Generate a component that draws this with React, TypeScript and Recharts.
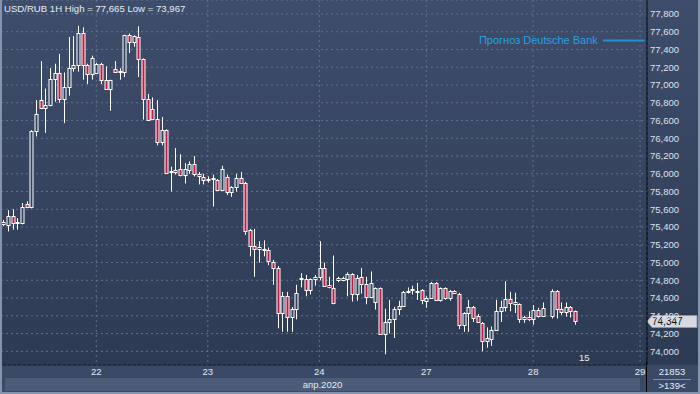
import { Bar, CartesianGrid, ComposedChart, ReferenceLine, XAxis, YAxis } from "recharts";

// hourly USD/RUB candles, 21-28 Apr 2020 (null = missing hour)
const opens = [
  75.46, 75.42, 75.52, 75.45, 75.45, 75.66, 75.62, 76.48, 76.83, 76.74,
  76.77, 77.07, 77.13, 76.84, 76.98, 77.19, 77.22, 77.58, 77.22, 77.12,
  77.14, 77.24, 77.06, 76.96, 77.18, 77.15, 77.15, 77.56, 77.48, 77.54,
  77.29, 76.84, 76.73, 76.62, 76.36, 76.49, 76.02, 76.04, 76.05, 75.99,
  76.04, 76.11, 76.0, 75.96, 75.94, 75.94, 75.93, 75.82, 75.96, 75.8,
  75.85, 75.95, 75.9, 75.37, 75.19, 75.15, 75.14, 75.14, 75.01, 74.94,
  74.43, 74.62, 74.39, 74.48, 74.82, 74.81, 74.69, 74.81, 74.84, 74.94,
  74.75, 74.71, 74.83, 74.8, 74.82, 74.87, 74.65, 74.84, 74.76, 74.61,
  74.56, 74.71, 74.2, 74.33, 74.36, 74.48, 74.51, 74.67, 74.69, 74.68,
  74.69, 74.57, 74.6, 74.77, 74.58, 74.71, 74.6, 74.68, 74.65, 74.3,
  74.43, 74.5, 74.4, 74.32, 74.12, 74.14, 74.24, 74.45, 74.5, 74.59,
  74.56, 74.53, 74.36, 74.39, 74.36, 74.46, 74.4, null, 74.4, 74.68,
  74.48, 74.44, 74.5, 74.45,
];
const highs = [
  75.48, 75.59, 75.6, 75.5, 75.67, 75.69, 76.49, 76.83, 77.27, 76.96,
  77.19, 77.24, 77.35, 77.14, 77.54, 77.55, 77.665, 77.65, 77.24, 77.33,
  77.25, 77.25, 77.21, 77.06, 77.27, 77.19, 77.565, 77.58, 77.56, 77.66,
  77.3, 76.9, 76.86, 76.83, 76.64, 76.5, 76.08, 76.29, 76.22, 76.12,
  76.14, 76.2, 76.02, 76.0, 75.97, 75.99, 75.94, 76.09, 75.99, 75.86,
  76.0, 76.02, 75.91, 75.38, 75.38, 75.24, 75.25, 75.17, 75.03, 74.96,
  74.67, 74.67, 74.5, 74.75, 74.88, 74.86, 74.82, 74.86, 75.24, 75.0,
  74.84, 75.08, 74.84, 74.84, 74.89, 74.88, 74.86, 74.94, 74.84, 74.9,
  74.72, 74.72, 74.48, 74.58, 74.5, 74.57, 74.68, 74.72, 74.74, 74.77,
  74.7, 74.62, 74.78, 74.78, 74.72, 74.72, 74.69, 74.69, 74.66, 74.44,
  74.58, 74.51, 74.42, 74.33, 74.27, 74.28, 74.58, 74.57, 74.79, 74.67,
  74.66, 74.54, 74.4, 74.45, 74.52, 74.49, 74.55, null, 74.7, 74.69,
  74.55, 74.55, 74.51, 74.46,
];
const lows = [
  75.41, 75.35, 75.37, 75.37, 75.43, 75.62, 75.61, 76.42, 76.73, 76.46,
  76.76, 76.81, 76.8, 76.57, 76.88, 77.15, 77.15, 77.06, 77.01, 77.06,
  77.13, 77.01, 76.95, 76.71, 77.14, 77.06, 77.09, 77.36, 77.43, 77.09,
  76.61, 76.6, 76.61, 76.32, 76.32, 76.0, 75.8, 75.99, 75.97, 75.89,
  76.0, 75.97, 75.88, 75.88, 75.9, 75.63, 75.81, 75.81, 75.76, 75.74,
  75.8, 75.89, 75.31, 75.07, 74.84, 75.0, 75.07, 74.97, 74.75, 74.26,
  74.22, 74.22, 74.22, 74.36, 74.72, 74.62, 74.64, 74.74, 74.8, 74.73,
  74.71, 74.53, 74.78, 74.79, 74.62, 74.56, 74.57, 74.65, 74.53, 74.6,
  74.47, 74.19, 73.967, 74.2, 74.15, 74.41, 74.5, 74.65, 74.64, 74.58,
  74.53, 74.49, 74.59, 74.57, 74.56, 74.58, 74.57, 74.65, 74.25, 74.22,
  74.22, 74.33, 74.32, 74.0, 74.04, 74.06, 74.23, 74.33, 74.45, 74.45,
  74.43, 74.32, 74.32, 74.34, 74.3, 74.38, 74.39, null, 74.37, 74.37,
  74.41, 74.39, 74.38, 74.3,
];
const closes = [
  75.43, 75.52, 75.44, 75.46, 75.63, 75.63, 76.48, 76.67, 76.74, 76.77,
  77.07, 77.13, 76.84, 76.98, 77.19, 77.22, 77.58, 77.22, 77.12, 77.3,
  77.24, 77.06, 76.96, 77.06, 77.15, 77.16, 77.56, 77.48, 77.55, 77.29,
  76.84, 76.61, 76.62, 76.36, 76.49, 76.01, 76.03, 76.02, 75.99, 76.05,
  76.11, 76.0, 75.97, 75.93, 75.94, 75.95, 75.82, 76.05, 75.8, 75.85,
  75.95, 75.9, 75.36, 75.19, 75.15, 75.17, 75.15, 75.02, 74.94, 74.43,
  74.62, 74.39, 74.48, 74.66, 74.83, 74.69, 74.81, 74.84, 74.94, 74.74,
  74.72, 74.54, 74.8, 74.83, 74.87, 74.65, 74.83, 74.76, 74.61, 74.77,
  74.71, 74.2, 74.33, 74.36, 74.48, 74.51, 74.67, 74.68, 74.7, 74.68,
  74.58, 74.6, 74.77, 74.58, 74.71, 74.6, 74.68, 74.66, 74.3, 74.43,
  74.5, 74.37, 74.33, 74.12, 74.15, 74.24, 74.45, 74.5, 74.59, 74.54,
  74.53, 74.36, 74.39, 74.36, 74.46, 74.4, 74.49, null, 74.68, 74.48,
  74.44, 74.5, 74.45, 74.347,
];

const SLOTS = 139;
const dayTicks = [20, 44, 68, 91, 114, 137];
const dayLabels = ["22", "23", "24", "27", "28", "29"];
const priceTicks = [
  74.0, 74.2, 74.4, 74.6, 74.8, 75.0, 75.2, 75.4, 75.6, 75.8,
  76.0, 76.2, 76.4, 76.6, 76.8, 77.0, 77.2, 77.4, 77.6, 77.8,
];
const forecast = 77.5;
const lastPrice = 74.347;

const data = Array.from({ length: SLOTS }, (_, i) => {
  const o = opens[i];
  if (o == null) return { i, range: null };
  return { i, o, h: highs[i], l: lows[i], c: closes[i], range: [lows[i], highs[i]] };
});

const fmt = (v: number) => v.toFixed(3).replace(".", ",");
const FONT = "'Liberation Sans', Arial, sans-serif";

function Candle(props: any) {
  const { x, y, width, height, payload } = props;
  if (!payload || payload.o == null || !height) return null;
  const { o, h, l, c } = payload;
  const top = Math.min(y, y + height);
  const span = Math.abs(height);
  const k = span / (h - l);
  const cx = Math.round(x + width / 2) + 0.5;
  let bt = Math.round(top + (h - Math.max(o, c)) * k) + 0.5;
  let bb = Math.round(top + (h - Math.min(o, c)) * k) + 0.5;
  if (bb - bt < 1) bb = bt + 1;
  const bear = c < o;
  return (
    <g>
      <line x1={cx} x2={cx} y1={top} y2={top + span} stroke="#ffffff" strokeWidth={1} />
      <rect
        x={cx - 1.5}
        y={bt}
        width={3}
        height={bb - bt}
        fill={bear ? "#c4183f" : "#34425e"}
        stroke="#ffffff"
        strokeWidth={1}
      />
    </g>
  );
}

function PriceTag(props: any) {
  const { viewBox } = props;
  if (!viewBox) return null;
  const x = viewBox.x + viewBox.width;
  const y = Math.round(viewBox.y) + 0.5;
  return (
    <g>
      <path
        d={`M${x} ${y} L${x + 5} ${y - 6} H${x + 50} V${y + 6} H${x + 5} Z`}
        fill="#d6dae0"
        stroke="#8d96a6"
      />
      <text x={x + 5} y={y + 3.5} fontSize={10} fontFamily={FONT} fill="#111111">
        {fmt(lastPrice)}
      </text>
    </g>
  );
}

export default function App() {
  return (
    <div
      style={{
        position: "absolute",
        left: 0,
        top: 0,
        width: 700,
        height: 394,
        overflow: "hidden",
        background: "linear-gradient(#3e4d6b, #2c3952)",
        fontFamily: FONT,
      }}
    >
      <div style={{ position: "absolute", left: 0, top: 365, width: 700, height: 29, background: "#3a4966" }} />
      <div
        style={{
          position: "absolute",
          left: 5,
          top: 378,
          width: 635,
          height: 13,
          background: "#4b5b78",
          color: "#e6eaf0",
          fontSize: 9.5,
          lineHeight: "13px",
          textAlign: "center",
        }}
      >
        апр.2020
      </div>
      <div style={{ position: "absolute", left: 646, top: 360, width: 1, height: 34, background: "#000" }} />
      <ComposedChart
        width={700}
        height={394}
        data={data}
        margin={{ top: 0, right: 0, left: 1, bottom: 0 }}
        barCategoryGap={0}
        style={{ position: "absolute", left: 0, top: 0 }}
      >
        <CartesianGrid stroke="#63728e" strokeDasharray="2 3" />
        <XAxis
          dataKey="i"
          ticks={dayTicks}
          interval={0}
          height={29}
          tickLine={false}
          tickSize={0}
          tickMargin={3}
          axisLine={{ stroke: "#151d2c" }}
          tick={{ fill: "#e6eaf0", fontSize: 9.5, fontFamily: FONT }}
          tickFormatter={(v: number) => dayLabels[dayTicks.indexOf(v)] ?? ""}
        />
        <YAxis
          orientation="right"
          type="number"
          width={53}
          domain={[73.846, 77.957]}
          allowDataOverflow
          ticks={priceTicks}
          interval={0}
          tickLine={false}
          tickSize={0}
          tickMargin={3}
          axisLine={{ stroke: "#000000" }}
          tick={{ fill: "#dfe3ea", fontSize: 9.5, fontFamily: FONT }}
          tickFormatter={fmt}
        />
        <Bar dataKey="range" shape={Candle} isAnimationActive={false} />
        <ReferenceLine
          segment={[
            { x: 129, y: forecast },
            { x: 138, y: forecast },
          ]}
          stroke="#1f8fd6"
          strokeWidth={2}
          label={{ value: "Прогноз Deutsche Bank", position: "left", fill: "#2a9fe6", fontSize: 11, fontFamily: FONT }}
        />
        <ReferenceLine y={lastPrice} stroke="none" label={<PriceTag />} />
      </ComposedChart>
      <div style={{ position: "absolute", left: 4, top: 3, color: "#e8ecf2", fontSize: 9.6, lineHeight: "12px" }}>
        USD/RUB 1H High = 77,665 Low = 73,967
      </div>
      <div style={{ position: "absolute", left: 579, top: 353, color: "#e8ecf2", fontSize: 9.5, lineHeight: "10px" }}>
        15
      </div>
      <div
        style={{
          position: "absolute",
          left: 649,
          top: 366,
          width: 46,
          color: "#e8ecf2",
          fontSize: 9.5,
          textAlign: "center",
          lineHeight: "12px",
        }}
      >
        <div style={{ borderBottom: "1px solid #8190a8", margin: "0 4px", paddingBottom: 1 }}>21853</div>
        <div>&gt;139&lt;</div>
      </div>
      <div
        style={{
          position: "absolute",
          inset: 0,
          borderLeft: "2px solid #8494ad",
          borderRight: "2px solid #8494ad",
          borderBottom: "2px solid #8494ad",
          pointerEvents: "none",
        }}
      />
    </div>
  );
}
